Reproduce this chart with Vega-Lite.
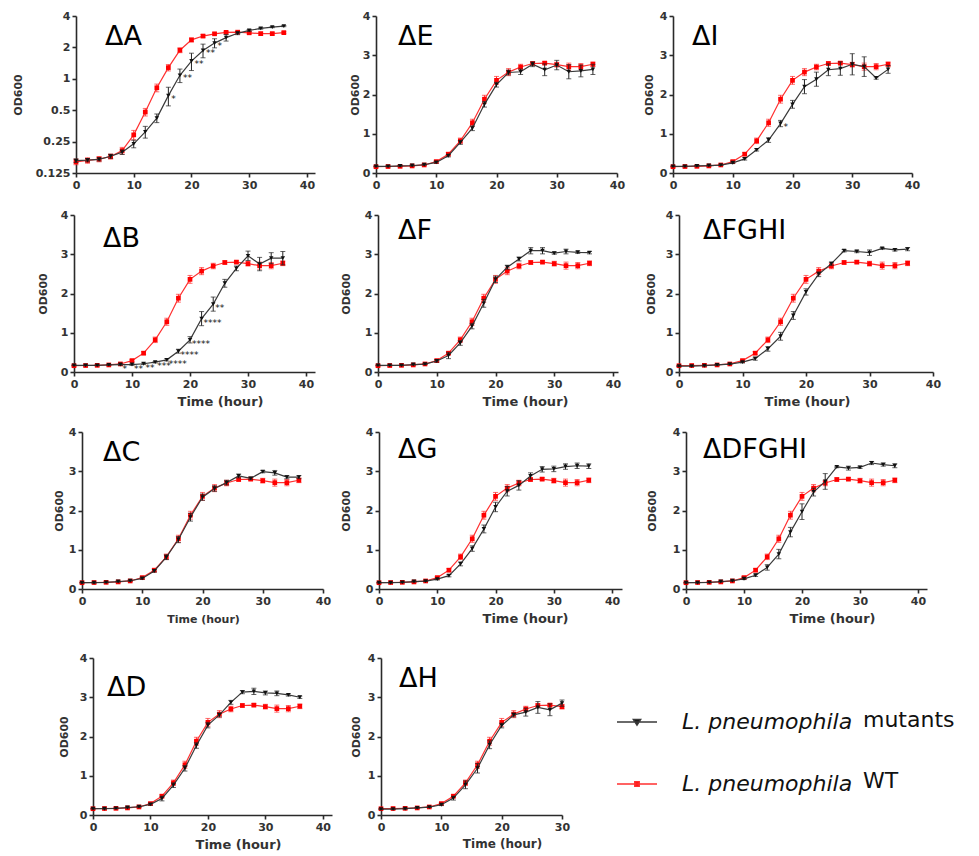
{
"$schema": "https://vega.github.io/schema/vega-lite/v6.json",
"padding": 0,
"background": "white",
"spacing": 0,
"datasets": {
"wt": [{"t":0,"y":0.16,"e":0.01},{"t":2,"y":0.165,"e":0.01},{"t":4,"y":0.17,"e":0.01},{"t":6,"y":0.18,"e":0.01},{"t":8,"y":0.205,"e":0.015},{"t":10,"y":0.29,"e":0.03},{"t":12,"y":0.48,"e":0.04},{"t":14,"y":0.82,"e":0.07},{"t":16,"y":1.28,"e":0.09},{"t":18,"y":1.88,"e":0.1},{"t":20,"y":2.36,"e":0.1},{"t":22,"y":2.57,"e":0.09},{"t":24,"y":2.7,"e":0.07},{"t":26,"y":2.79,"e":0.04},{"t":28,"y":2.8,"e":0.04},{"t":30,"y":2.76,"e":0.06},{"t":32,"y":2.71,"e":0.09},{"t":34,"y":2.71,"e":0.08},{"t":36,"y":2.77,"e":0.06}],
"mA": [{"t":0,"y":0.164,"e":0.006},{"t":2,"y":0.166,"e":0.006},{"t":4,"y":0.169,"e":0.006},{"t":6,"y":0.181,"e":0.008},{"t":8,"y":0.198,"e":0.01},{"t":10,"y":0.238,"e":0.02},{"t":12,"y":0.31,"e":0.04},{"t":14,"y":0.42,"e":0.04},{"t":16,"y":0.69,"e":0.14,"sig":"*"},{"t":18,"y":1.08,"e":0.16,"sig":"**"},{"t":20,"y":1.48,"e":0.28,"sig":"**"},{"t":22,"y":1.87,"e":0.28,"sig":"**"},{"t":24,"y":2.2,"e":0.22,"sig":"*"},{"t":26,"y":2.48,"e":0.18},{"t":28,"y":2.73,"e":0.08},{"t":30,"y":2.91,"e":0.06},{"t":32,"y":3.04,"e":0.05},{"t":34,"y":3.13,"e":0.04},{"t":36,"y":3.2,"e":0.04}],
"mB": [{"t":0,"y":0.17,"e":0.01},{"t":2,"y":0.17,"e":0.01},{"t":4,"y":0.17,"e":0.01},{"t":6,"y":0.18,"e":0.01},{"t":8,"y":0.19,"e":0.02,"sig":"*"},{"t":10,"y":0.19,"e":0.02,"sig":"**"},{"t":12,"y":0.21,"e":0.02,"sig":"**"},{"t":14,"y":0.25,"e":0.02,"sig":"***"},{"t":16,"y":0.31,"e":0.03,"sig":"****"},{"t":18,"y":0.53,"e":0.05,"sig":"****"},{"t":20,"y":0.82,"e":0.08,"sig":"****"},{"t":22,"y":1.36,"e":0.18,"sig":"****"},{"t":24,"y":1.73,"e":0.18,"sig":"**"},{"t":26,"y":2.26,"e":0.1},{"t":28,"y":2.64,"e":0.06},{"t":30,"y":2.96,"e":0.12},{"t":32,"y":2.75,"e":0.17},{"t":34,"y":2.9,"e":0.14},{"t":36,"y":2.9,"e":0.17}],
"mE": [{"t":0,"y":0.17,"e":0.01},{"t":2,"y":0.17,"e":0.01},{"t":4,"y":0.18,"e":0.01},{"t":6,"y":0.19,"e":0.01},{"t":8,"y":0.21,"e":0.01},{"t":10,"y":0.27,"e":0.02},{"t":12,"y":0.44,"e":0.03},{"t":14,"y":0.78,"e":0.05},{"t":16,"y":1.14,"e":0.06},{"t":18,"y":1.75,"e":0.07},{"t":20,"y":2.25,"e":0.06},{"t":22,"y":2.56,"e":0.06},{"t":24,"y":2.58,"e":0.07},{"t":26,"y":2.77,"e":0.06},{"t":28,"y":2.63,"e":0.15},{"t":30,"y":2.75,"e":0.12},{"t":32,"y":2.58,"e":0.18},{"t":34,"y":2.6,"e":0.15},{"t":36,"y":2.64,"e":0.13}],
"mI": [{"t":0,"y":0.17,"e":0.01},{"t":2,"y":0.17,"e":0.01},{"t":4,"y":0.18,"e":0.01},{"t":6,"y":0.19,"e":0.01},{"t":8,"y":0.2,"e":0.01},{"t":10,"y":0.26,"e":0.02},{"t":12,"y":0.36,"e":0.03},{"t":14,"y":0.59,"e":0.03},{"t":16,"y":0.84,"e":0.06},{"t":18,"y":1.26,"e":0.08,"sig":"*"},{"t":20,"y":1.75,"e":0.1},{"t":22,"y":2.2,"e":0.18},{"t":24,"y":2.39,"e":0.18},{"t":26,"y":2.63,"e":0.15},{"t":28,"y":2.66,"e":0.17},{"t":30,"y":2.77,"e":0.27},{"t":32,"y":2.71,"e":0.25},{"t":34,"y":2.42,"e":0.03},{"t":36,"y":2.64,"e":0.1}],
"mF": [{"t":0,"y":0.17,"e":0.01},{"t":2,"y":0.17,"e":0.01},{"t":4,"y":0.17,"e":0.01},{"t":6,"y":0.19,"e":0.01},{"t":8,"y":0.2,"e":0.01},{"t":10,"y":0.28,"e":0.03},{"t":12,"y":0.42,"e":0.08},{"t":14,"y":0.74,"e":0.06},{"t":16,"y":1.17,"e":0.07},{"t":18,"y":1.75,"e":0.1},{"t":20,"y":2.36,"e":0.08},{"t":22,"y":2.67,"e":0.05},{"t":24,"y":2.88,"e":0.05},{"t":26,"y":3.09,"e":0.08},{"t":28,"y":3.09,"e":0.08},{"t":30,"y":3.03,"e":0.03},{"t":32,"y":3.07,"e":0.06},{"t":34,"y":3.05,"e":0.03},{"t":36,"y":3.04,"e":0.03}],
"mFGHI": [{"t":0,"y":0.15,"e":0.01},{"t":2,"y":0.15,"e":0.01},{"t":4,"y":0.16,"e":0.01},{"t":6,"y":0.18,"e":0.01},{"t":8,"y":0.2,"e":0.01},{"t":10,"y":0.25,"e":0.02},{"t":12,"y":0.34,"e":0.04},{"t":14,"y":0.59,"e":0.06},{"t":16,"y":0.91,"e":0.1},{"t":18,"y":1.44,"e":0.1},{"t":20,"y":2.04,"e":0.08},{"t":22,"y":2.49,"e":0.06},{"t":24,"y":2.76,"e":0.04},{"t":26,"y":3.09,"e":0.03},{"t":28,"y":3.07,"e":0.03},{"t":30,"y":3.04,"e":0.07},{"t":32,"y":3.15,"e":0.02},{"t":34,"y":3.11,"e":0.03},{"t":36,"y":3.13,"e":0.04}],
"mC": [{"t":0,"y":0.16,"e":0.01},{"t":2,"y":0.16,"e":0.01},{"t":4,"y":0.17,"e":0.01},{"t":6,"y":0.19,"e":0.01},{"t":8,"y":0.21,"e":0.01},{"t":10,"y":0.27,"e":0.02},{"t":12,"y":0.46,"e":0.03},{"t":14,"y":0.81,"e":0.06},{"t":16,"y":1.26,"e":0.08},{"t":18,"y":1.83,"e":0.1},{"t":20,"y":2.34,"e":0.08},{"t":22,"y":2.56,"e":0.07},{"t":24,"y":2.71,"e":0.06},{"t":26,"y":2.88,"e":0.05},{"t":28,"y":2.82,"e":0.03},{"t":30,"y":2.99,"e":0.03},{"t":32,"y":2.96,"e":0.06},{"t":34,"y":2.85,"e":0.04},{"t":36,"y":2.85,"e":0.04}],
"mG": [{"t":0,"y":0.16,"e":0.01},{"t":2,"y":0.16,"e":0.01},{"t":4,"y":0.17,"e":0.01},{"t":6,"y":0.19,"e":0.01},{"t":8,"y":0.2,"e":0.01},{"t":10,"y":0.25,"e":0.02},{"t":12,"y":0.34,"e":0.03},{"t":14,"y":0.64,"e":0.05},{"t":16,"y":1.03,"e":0.07},{"t":18,"y":1.53,"e":0.1},{"t":20,"y":2.09,"e":0.12},{"t":22,"y":2.49,"e":0.12},{"t":24,"y":2.64,"e":0.12},{"t":26,"y":2.88,"e":0.08},{"t":28,"y":3.05,"e":0.07},{"t":30,"y":3.06,"e":0.07},{"t":32,"y":3.12,"e":0.07},{"t":34,"y":3.14,"e":0.07},{"t":36,"y":3.13,"e":0.06}],
"mDFGHI": [{"t":0,"y":0.16,"e":0.01},{"t":2,"y":0.16,"e":0.01},{"t":4,"y":0.17,"e":0.01},{"t":6,"y":0.19,"e":0.01},{"t":8,"y":0.21,"e":0.01},{"t":10,"y":0.26,"e":0.02},{"t":12,"y":0.35,"e":0.03},{"t":14,"y":0.55,"e":0.07},{"t":16,"y":0.89,"e":0.12},{"t":18,"y":1.45,"e":0.12},{"t":20,"y":1.97,"e":0.2},{"t":22,"y":2.47,"e":0.1},{"t":24,"y":2.74,"e":0.2},{"t":26,"y":3.11,"e":0.02},{"t":28,"y":3.08,"e":0.05},{"t":30,"y":3.1,"e":0.03},{"t":32,"y":3.21,"e":0.04},{"t":34,"y":3.17,"e":0.04},{"t":36,"y":3.14,"e":0.05}],
"mD": [{"t":0,"y":0.16,"e":0.01},{"t":2,"y":0.16,"e":0.01},{"t":4,"y":0.17,"e":0.01},{"t":6,"y":0.19,"e":0.01},{"t":8,"y":0.21,"e":0.01},{"t":10,"y":0.27,"e":0.02},{"t":12,"y":0.42,"e":0.06},{"t":14,"y":0.76,"e":0.06},{"t":16,"y":1.19,"e":0.07},{"t":18,"y":1.77,"e":0.07},{"t":20,"y":2.29,"e":0.07},{"t":22,"y":2.55,"e":0.05},{"t":24,"y":2.87,"e":0.05},{"t":26,"y":3.13,"e":0.04},{"t":28,"y":3.15,"e":0.08},{"t":30,"y":3.11,"e":0.05},{"t":32,"y":3.1,"e":0.06},{"t":34,"y":3.06,"e":0.03},{"t":36,"y":3.0,"e":0.03}],
"mH": [{"t":0,"y":0.15,"e":0.01},{"t":2,"y":0.15,"e":0.01},{"t":4,"y":0.16,"e":0.01},{"t":6,"y":0.18,"e":0.01},{"t":8,"y":0.2,"e":0.01},{"t":10,"y":0.26,"e":0.02},{"t":12,"y":0.43,"e":0.05},{"t":14,"y":0.77,"e":0.1},{"t":16,"y":1.19,"e":0.12},{"t":18,"y":1.79,"e":0.1},{"t":20,"y":2.28,"e":0.06},{"t":22,"y":2.55,"e":0.05},{"t":24,"y":2.62,"e":0.1},{"t":26,"y":2.74,"e":0.15},{"t":28,"y":2.68,"e":0.15},{"t":30,"y":2.85,"e":0.08}]
},
"vconcat": [
{"width":1,"height":9.5,"mark":"point","data":{"values":[]}},
{"hconcat":[
{"width":76,"height":1,"mark":"point","data":{"values":[]}},
{"width":239,"height":157,"title":{"text":"ΔA","dx":29,"offset":-41},
 "layer":[
  {"data":{"name":"wt"},"layer":[
   {"mark":{"type":"line","color":"#ff3030","strokeWidth":1.2},"encoding":{"x":{"field":"t","type":"quantitative"},"y":{"field":"y","type":"quantitative","title":"OD600"}}},
   {"mark":{"type":"errorbar","color":"#ff3030","thickness":1,"ticks":{"size":5}},"encoding":{"x":{"field":"t","type":"quantitative"},"y":{"field":"y","type":"quantitative","title":"OD600"},"yError":{"field":"e"}}},
   {"mark":{"type":"point","shape":"square","filled":true,"size":22,"color":"#ff0000","opacity":1},"encoding":{"x":{"field":"t","type":"quantitative"},"y":{"field":"y","type":"quantitative","title":"OD600"}}}]},
  {"data":{"name":"mA"},"layer":[
   {"mark":{"type":"line","color":"#3a3a3a","strokeWidth":1.2},"encoding":{
     "x":{"field":"t","type":"quantitative","scale":{"domain":[0,41.4],"nice":false},"axis":{"values":[0,10,20,30,40],"tickCount":10,"format":"d","title":null}},
     "y":{"field":"y","type":"quantitative","title":"OD600","scale":{"type":"log","base":2,"domain":[0.125,4],"nice":false},"axis":{"values":[0.125,0.25,0.5,1,2,4],"tickCount":10,"format":"~g","titlePadding":12}}}},
   {"mark":{"type":"errorbar","color":"#222","thickness":1,"ticks":{"size":5}},"encoding":{"x":{"field":"t","type":"quantitative"},"y":{"field":"y","type":"quantitative","title":"OD600"},"yError":{"field":"e"}}},
   {"mark":{"type":"point","shape":"triangle-down","filled":true,"size":20,"color":"#111","opacity":1},"encoding":{"x":{"field":"t","type":"quantitative"},"y":{"field":"y","type":"quantitative","title":"OD600"}}}]},
  {"data":{"name":"mA"},"transform":[{"filter":"isValid(datum.sig)"}],"mark":{"type":"text","align":"left","dx":3,"dy":3,"fontSize":9,"color":"#111"},"encoding":{"x":{"field":"t","type":"quantitative"},"y":{"field":"y","type":"quantitative","title":"OD600"},"text":{"field":"sig"}}}
 ]},
{"width":61,"height":1,"mark":"point","data":{"values":[]}},
{"width":241,"height":157,"title":{"text":"ΔE","dx":22,"offset":-41},
 "layer":[
  {"data":{"name":"wt"},"layer":[
   {"mark":{"type":"line","color":"#ff3030","strokeWidth":1.2},"encoding":{"x":{"field":"t","type":"quantitative"},"y":{"field":"y","type":"quantitative","title":"OD600"}}},
   {"mark":{"type":"errorbar","color":"#ff3030","thickness":1,"ticks":{"size":5}},"encoding":{"x":{"field":"t","type":"quantitative"},"y":{"field":"y","type":"quantitative","title":"OD600"},"yError":{"field":"e"}}},
   {"mark":{"type":"point","shape":"square","filled":true,"size":22,"color":"#ff0000","opacity":1},"encoding":{"x":{"field":"t","type":"quantitative"},"y":{"field":"y","type":"quantitative","title":"OD600"}}}]},
  {"data":{"name":"mE"},"layer":[
   {"mark":{"type":"line","color":"#3a3a3a","strokeWidth":1.2},"encoding":{
     "x":{"field":"t","type":"quantitative","scale":{"domain":[0,40],"nice":false},"axis":{"values":[0,10,20,30,40],"tickCount":10,"format":"d","title":null}},
     "y":{"field":"y","type":"quantitative","title":"OD600","scale":{"domain":[0,4],"nice":false},"axis":{"values":[0,1,2,3,4],"tickCount":10,"format":"d","titlePadding":2}}}},
   {"mark":{"type":"errorbar","color":"#222","thickness":1,"ticks":{"size":5}},"encoding":{"x":{"field":"t","type":"quantitative"},"y":{"field":"y","type":"quantitative","title":"OD600"},"yError":{"field":"e"}}},
   {"mark":{"type":"point","shape":"triangle-down","filled":true,"size":20,"color":"#111","opacity":1},"encoding":{"x":{"field":"t","type":"quantitative"},"y":{"field":"y","type":"quantitative","title":"OD600"}}}]}
 ]},
{"width":56,"height":1,"mark":"point","data":{"values":[]}},
{"width":239,"height":157,"title":{"text":"ΔI","dx":19,"offset":-41},
 "layer":[
  {"data":{"name":"wt"},"layer":[
   {"mark":{"type":"line","color":"#ff3030","strokeWidth":1.2},"encoding":{"x":{"field":"t","type":"quantitative"},"y":{"field":"y","type":"quantitative","title":"OD600"}}},
   {"mark":{"type":"errorbar","color":"#ff3030","thickness":1,"ticks":{"size":5}},"encoding":{"x":{"field":"t","type":"quantitative"},"y":{"field":"y","type":"quantitative","title":"OD600"},"yError":{"field":"e"}}},
   {"mark":{"type":"point","shape":"square","filled":true,"size":22,"color":"#ff0000","opacity":1},"encoding":{"x":{"field":"t","type":"quantitative"},"y":{"field":"y","type":"quantitative","title":"OD600"}}}]},
  {"data":{"name":"mI"},"layer":[
   {"mark":{"type":"line","color":"#3a3a3a","strokeWidth":1.2},"encoding":{
     "x":{"field":"t","type":"quantitative","scale":{"domain":[0,40],"nice":false},"axis":{"values":[0,10,20,30,40],"tickCount":10,"format":"d","title":null}},
     "y":{"field":"y","type":"quantitative","title":"OD600","scale":{"domain":[0,4],"nice":false},"axis":{"values":[0,1,2,3,4],"tickCount":10,"format":"d","titlePadding":5}}}},
   {"mark":{"type":"errorbar","color":"#222","thickness":1,"ticks":{"size":5}},"encoding":{"x":{"field":"t","type":"quantitative"},"y":{"field":"y","type":"quantitative","title":"OD600"},"yError":{"field":"e"}}},
   {"mark":{"type":"point","shape":"triangle-down","filled":true,"size":20,"color":"#111","opacity":1},"encoding":{"x":{"field":"t","type":"quantitative"},"y":{"field":"y","type":"quantitative","title":"OD600"}}}]},
  {"data":{"name":"mI"},"transform":[{"filter":"isValid(datum.sig)"}],"mark":{"type":"text","align":"left","dx":3,"dy":3,"fontSize":9,"color":"#111"},"encoding":{"x":{"field":"t","type":"quantitative"},"y":{"field":"y","type":"quantitative","title":"OD600"},"text":{"field":"sig"}}}
 ]}
],"spacing":0,"bounds":"flush"},
{"width":1,"height":19,"mark":"point","data":{"values":[]}},
{"hconcat":[
{"width":74,"height":1,"mark":"point","data":{"values":[]}},
{"width":241,"height":157,"title":{"text":"ΔB","dx":29,"offset":-44},
 "layer":[
  {"data":{"name":"wt"},"layer":[
   {"mark":{"type":"line","color":"#ff3030","strokeWidth":1.2},"encoding":{"x":{"field":"t","type":"quantitative"},"y":{"field":"y","type":"quantitative","title":"OD600"}}},
   {"mark":{"type":"errorbar","color":"#ff3030","thickness":1,"ticks":{"size":5}},"encoding":{"x":{"field":"t","type":"quantitative"},"y":{"field":"y","type":"quantitative","title":"OD600"},"yError":{"field":"e"}}},
   {"mark":{"type":"point","shape":"square","filled":true,"size":22,"color":"#ff0000","opacity":1},"encoding":{"x":{"field":"t","type":"quantitative"},"y":{"field":"y","type":"quantitative","title":"OD600"}}}]},
  {"data":{"name":"mB"},"layer":[
   {"mark":{"type":"line","color":"#3a3a3a","strokeWidth":1.2},"encoding":{
     "x":{"field":"t","type":"quantitative","scale":{"domain":[0,41.55],"nice":false},"axis":{"values":[0,10,20,30,40],"tickCount":10,"format":"d","title":"Time (hour)","titleFontSize":13,"titlePadding":6,"titleX":146}},
     "y":{"field":"y","type":"quantitative","title":"OD600","scale":{"domain":[0,4],"nice":false},"axis":{"values":[0,1,2,3,4],"tickCount":10,"format":"d","titlePadding":12}}}},
   {"mark":{"type":"errorbar","color":"#222","thickness":1,"ticks":{"size":5}},"encoding":{"x":{"field":"t","type":"quantitative"},"y":{"field":"y","type":"quantitative","title":"OD600"},"yError":{"field":"e"}}},
   {"mark":{"type":"point","shape":"triangle-down","filled":true,"size":20,"color":"#111","opacity":1},"encoding":{"x":{"field":"t","type":"quantitative"},"y":{"field":"y","type":"quantitative","title":"OD600"}}}]},
  {"data":{"name":"mB"},"transform":[{"filter":"isValid(datum.sig)"}],"mark":{"type":"text","align":"left","dx":2,"dy":4,"fontSize":9,"color":"#111"},"encoding":{"x":{"field":"t","type":"quantitative"},"y":{"field":"y","type":"quantitative","title":"OD600"},"text":{"field":"sig"}}}
 ]},
{"width":63,"height":1,"mark":"point","data":{"values":[]}},
{"width":240,"height":157,"title":{"text":"ΔF","dx":20,"offset":-36},
 "layer":[
  {"data":{"name":"wt"},"layer":[
   {"mark":{"type":"line","color":"#ff3030","strokeWidth":1.2},"encoding":{"x":{"field":"t","type":"quantitative"},"y":{"field":"y","type":"quantitative","title":"OD600"}}},
   {"mark":{"type":"errorbar","color":"#ff3030","thickness":1,"ticks":{"size":5}},"encoding":{"x":{"field":"t","type":"quantitative"},"y":{"field":"y","type":"quantitative","title":"OD600"},"yError":{"field":"e"}}},
   {"mark":{"type":"point","shape":"square","filled":true,"size":22,"color":"#ff0000","opacity":1},"encoding":{"x":{"field":"t","type":"quantitative"},"y":{"field":"y","type":"quantitative","title":"OD600"}}}]},
  {"data":{"name":"mF"},"layer":[
   {"mark":{"type":"line","color":"#3a3a3a","strokeWidth":1.2},"encoding":{
     "x":{"field":"t","type":"quantitative","scale":{"domain":[0,40.85],"nice":false},"axis":{"values":[0,10,20,30,40],"tickCount":10,"format":"d","title":"Time (hour)","titleFontSize":13,"titlePadding":6,"titleX":147}},
     "y":{"field":"y","type":"quantitative","title":"OD600","scale":{"domain":[0,4],"nice":false},"axis":{"values":[0,1,2,3,4],"tickCount":10,"format":"d","titlePadding":13}}}},
   {"mark":{"type":"errorbar","color":"#222","thickness":1,"ticks":{"size":5}},"encoding":{"x":{"field":"t","type":"quantitative"},"y":{"field":"y","type":"quantitative","title":"OD600"},"yError":{"field":"e"}}},
   {"mark":{"type":"point","shape":"triangle-down","filled":true,"size":20,"color":"#111","opacity":1},"encoding":{"x":{"field":"t","type":"quantitative"},"y":{"field":"y","type":"quantitative","title":"OD600"}}}]}
 ]},
{"width":61,"height":1,"mark":"point","data":{"values":[]}},
{"width":254,"height":157,"title":{"text":"ΔFGHI","dx":24,"offset":-36},
 "layer":[
  {"data":{"name":"wt"},"layer":[
   {"mark":{"type":"line","color":"#ff3030","strokeWidth":1.2},"encoding":{"x":{"field":"t","type":"quantitative"},"y":{"field":"y","type":"quantitative","title":"OD600"}}},
   {"mark":{"type":"errorbar","color":"#ff3030","thickness":1,"ticks":{"size":5}},"encoding":{"x":{"field":"t","type":"quantitative"},"y":{"field":"y","type":"quantitative","title":"OD600"},"yError":{"field":"e"}}},
   {"mark":{"type":"point","shape":"square","filled":true,"size":22,"color":"#ff0000","opacity":1},"encoding":{"x":{"field":"t","type":"quantitative"},"y":{"field":"y","type":"quantitative","title":"OD600"}}}]},
  {"data":{"name":"mFGHI"},"layer":[
   {"mark":{"type":"line","color":"#3a3a3a","strokeWidth":1.2},"encoding":{
     "x":{"field":"t","type":"quantitative","scale":{"domain":[0,40],"nice":false},"axis":{"values":[0,10,20,30,40],"tickCount":10,"format":"d","title":"Time (hour)","titleFontSize":13,"titlePadding":6,"titleX":128}},
     "y":{"field":"y","type":"quantitative","title":"OD600","scale":{"domain":[0,4],"nice":false},"axis":{"values":[0,1,2,3,4],"tickCount":10,"format":"d","titlePadding":9}}}},
   {"mark":{"type":"errorbar","color":"#222","thickness":1,"ticks":{"size":5}},"encoding":{"x":{"field":"t","type":"quantitative"},"y":{"field":"y","type":"quantitative","title":"OD600"},"yError":{"field":"e"}}},
   {"mark":{"type":"point","shape":"triangle-down","filled":true,"size":20,"color":"#111","opacity":1},"encoding":{"x":{"field":"t","type":"quantitative"},"y":{"field":"y","type":"quantitative","title":"OD600"}}}]}
 ]}
],"spacing":0,"bounds":"flush"},
{"width":1,"height":18,"mark":"point","data":{"values":[]}},
{"hconcat":[
{"width":82,"height":1,"mark":"point","data":{"values":[]}},
{"width":241,"height":157,"title":{"text":"ΔC","dx":21,"offset":-41},
 "layer":[
  {"data":{"name":"wt"},"layer":[
   {"mark":{"type":"line","color":"#ff3030","strokeWidth":1.2},"encoding":{"x":{"field":"t","type":"quantitative"},"y":{"field":"y","type":"quantitative","title":"OD600"}}},
   {"mark":{"type":"errorbar","color":"#ff3030","thickness":1,"ticks":{"size":5}},"encoding":{"x":{"field":"t","type":"quantitative"},"y":{"field":"y","type":"quantitative","title":"OD600"},"yError":{"field":"e"}}},
   {"mark":{"type":"point","shape":"square","filled":true,"size":22,"color":"#ff0000","opacity":1},"encoding":{"x":{"field":"t","type":"quantitative"},"y":{"field":"y","type":"quantitative","title":"OD600"}}}]},
  {"data":{"name":"mC"},"layer":[
   {"mark":{"type":"line","color":"#3a3a3a","strokeWidth":1.2},"encoding":{
     "x":{"field":"t","type":"quantitative","scale":{"domain":[0,40],"nice":false},"axis":{"values":[0,10,20,30,40],"tickCount":10,"format":"d","title":"Time (hour)","titleFontSize":11,"titlePadding":7,"titleX":121}},
     "y":{"field":"y","type":"quantitative","title":"OD600","scale":{"domain":[0,4],"nice":false},"axis":{"values":[0,1,2,3,4],"tickCount":10,"format":"d","titlePadding":4}}}},
   {"mark":{"type":"errorbar","color":"#222","thickness":1,"ticks":{"size":5}},"encoding":{"x":{"field":"t","type":"quantitative"},"y":{"field":"y","type":"quantitative","title":"OD600"},"yError":{"field":"e"}}},
   {"mark":{"type":"point","shape":"triangle-down","filled":true,"size":20,"color":"#111","opacity":1},"encoding":{"x":{"field":"t","type":"quantitative"},"y":{"field":"y","type":"quantitative","title":"OD600"}}}]}
 ]},
{"width":56,"height":1,"mark":"point","data":{"values":[]}},
{"width":243,"height":157,"title":{"text":"ΔG","dx":19,"offset":-38},
 "layer":[
  {"data":{"name":"wt"},"layer":[
   {"mark":{"type":"line","color":"#ff3030","strokeWidth":1.2},"encoding":{"x":{"field":"t","type":"quantitative"},"y":{"field":"y","type":"quantitative","title":"OD600"}}},
   {"mark":{"type":"errorbar","color":"#ff3030","thickness":1,"ticks":{"size":5}},"encoding":{"x":{"field":"t","type":"quantitative"},"y":{"field":"y","type":"quantitative","title":"OD600"},"yError":{"field":"e"}}},
   {"mark":{"type":"point","shape":"square","filled":true,"size":22,"color":"#ff0000","opacity":1},"encoding":{"x":{"field":"t","type":"quantitative"},"y":{"field":"y","type":"quantitative","title":"OD600"}}}]},
  {"data":{"name":"mG"},"layer":[
   {"mark":{"type":"line","color":"#3a3a3a","strokeWidth":1.2},"encoding":{
     "x":{"field":"t","type":"quantitative","scale":{"domain":[0,41.7],"nice":false},"axis":{"values":[0,10,20,30,40],"tickCount":10,"format":"d","title":"Time (hour)","titleFontSize":13,"titlePadding":6,"titleX":146}},
     "y":{"field":"y","type":"quantitative","title":"OD600","scale":{"domain":[0,4],"nice":false},"axis":{"values":[0,1,2,3,4],"tickCount":10,"format":"d","titlePadding":14}}}},
   {"mark":{"type":"errorbar","color":"#222","thickness":1,"ticks":{"size":5}},"encoding":{"x":{"field":"t","type":"quantitative"},"y":{"field":"y","type":"quantitative","title":"OD600"},"yError":{"field":"e"}}},
   {"mark":{"type":"point","shape":"triangle-down","filled":true,"size":20,"color":"#111","opacity":1},"encoding":{"x":{"field":"t","type":"quantitative"},"y":{"field":"y","type":"quantitative","title":"OD600"}}}]}
 ]},
{"width":64,"height":1,"mark":"point","data":{"values":[]}},
{"width":241,"height":157,"title":{"text":"ΔDFGHI","dx":17,"offset":-38},
 "layer":[
  {"data":{"name":"wt"},"layer":[
   {"mark":{"type":"line","color":"#ff3030","strokeWidth":1.2},"encoding":{"x":{"field":"t","type":"quantitative"},"y":{"field":"y","type":"quantitative","title":"OD600"}}},
   {"mark":{"type":"errorbar","color":"#ff3030","thickness":1,"ticks":{"size":5}},"encoding":{"x":{"field":"t","type":"quantitative"},"y":{"field":"y","type":"quantitative","title":"OD600"},"yError":{"field":"e"}}},
   {"mark":{"type":"point","shape":"square","filled":true,"size":22,"color":"#ff0000","opacity":1},"encoding":{"x":{"field":"t","type":"quantitative"},"y":{"field":"y","type":"quantitative","title":"OD600"}}}]},
  {"data":{"name":"mDFGHI"},"layer":[
   {"mark":{"type":"line","color":"#3a3a3a","strokeWidth":1.2},"encoding":{
     "x":{"field":"t","type":"quantitative","scale":{"domain":[0,41.55],"nice":false},"axis":{"values":[0,10,20,30,40],"tickCount":10,"format":"d","title":"Time (hour)","titleFontSize":13,"titlePadding":6,"titleX":146}},
     "y":{"field":"y","type":"quantitative","title":"OD600","scale":{"domain":[0,4],"nice":false},"axis":{"values":[0,1,2,3,4],"tickCount":10,"format":"d","titlePadding":15}}}},
   {"mark":{"type":"errorbar","color":"#222","thickness":1,"ticks":{"size":5}},"encoding":{"x":{"field":"t","type":"quantitative"},"y":{"field":"y","type":"quantitative","title":"OD600"},"yError":{"field":"e"}}},
   {"mark":{"type":"point","shape":"triangle-down","filled":true,"size":20,"color":"#111","opacity":1},"encoding":{"x":{"field":"t","type":"quantitative"},"y":{"field":"y","type":"quantitative","title":"OD600"}}}]}
 ]}
],"spacing":0,"bounds":"flush"},
{"width":1,"height":27,"mark":"point","data":{"values":[]}},
{"hconcat":[
{"width":93,"height":1,"mark":"point","data":{"values":[]}},
{"width":239,"height":157,"title":{"text":"ΔD","dx":14,"offset":-50},
 "layer":[
  {"data":{"name":"wt"},"layer":[
   {"mark":{"type":"line","color":"#ff3030","strokeWidth":1.2},"encoding":{"x":{"field":"t","type":"quantitative"},"y":{"field":"y","type":"quantitative","title":"OD600"},
     "opacity":{"datum":"w","scale":{"domain":["m","w"],"range":[1,1]},"legend":{"orient":"none","legendX":706,"legendY":42,"title":null,"padding":0,"labelExpr":"datum.value === 'm' ? 'mutants' : 'WT'","labelFont":"DejaVu Sans","labelFontSize":22,"labelColor":"#111","labelOffset":24,"labelLimit":0,"symbolSize":1600,"rowPadding":30,"symbolOpacity":0,"symbolStrokeWidth":0,"symbolStrokeColor":"transparent","symbolFillColor":"transparent",
       "encode":{"symbols":{"update":{"opacity":{"value":0},"strokeOpacity":{"value":0},"fillOpacity":{"value":0},"strokeWidth":{"value":0},"stroke":{"value":"transparent"},"fill":{"value":"transparent"},"size":{"value":1600},"shape":{"signal":"datum.value === 'm' ? 'M-1,0H1M-0.18,-0.12H0.18L0,0.16Z' : 'M-1,0H1M-0.11,-0.11H0.11V0.11H-0.11Z'"}}}}}}}},
   {"mark":{"type":"errorbar","color":"#ff3030","thickness":1,"ticks":{"size":5}},"encoding":{"x":{"field":"t","type":"quantitative"},"y":{"field":"y","type":"quantitative","title":"OD600"},"yError":{"field":"e"}}},
   {"mark":{"type":"point","shape":"square","filled":true,"size":22,"color":"#ff0000","opacity":1},"encoding":{"x":{"field":"t","type":"quantitative"},"y":{"field":"y","type":"quantitative","title":"OD600"}}}]},
  {"data":{"name":"mD"},"layer":[
   {"mark":{"type":"line","color":"#3a3a3a","strokeWidth":1.2},"encoding":{
     "x":{"field":"t","type":"quantitative","scale":{"domain":[0,41.6],"nice":false},"axis":{"values":[0,10,20,30,40],"tickCount":10,"format":"d","title":"Time (hour)","titleFontSize":13,"titlePadding":6,"titleX":145}},
     "y":{"field":"y","type":"quantitative","title":"OD600","scale":{"domain":[0,4],"nice":false},"axis":{"values":[0,1,2,3,4],"tickCount":10,"format":"d","titlePadding":10}},
     "opacity":{"datum":"m"}}},
   {"mark":{"type":"errorbar","color":"#222","thickness":1,"ticks":{"size":5}},"encoding":{"x":{"field":"t","type":"quantitative"},"y":{"field":"y","type":"quantitative","title":"OD600"},"yError":{"field":"e"}}},
   {"mark":{"type":"point","shape":"triangle-down","filled":true,"size":20,"color":"#111","opacity":1},"encoding":{"x":{"field":"t","type":"quantitative"},"y":{"field":"y","type":"quantitative","title":"OD600"}}}]}
 ]},
{"width":49,"height":1,"mark":"point","data":{"values":[]}},
{"width":181,"height":157,"title":{"text":"ΔH","dx":18,"offset":-41},
 "layer":[
  {"data":{"name":"wt"},"transform":[{"filter":"datum.t <= 30"}],"layer":[
   {"mark":{"type":"line","strokeWidth":1.2},"encoding":{"x":{"field":"t","type":"quantitative"},"y":{"field":"y","type":"quantitative","title":"OD600"},
     "color":{"datum":"w","scale":{"domain":["m","w"],"range":["#3a3a3a","#ff3030"]},"legend":{"orient":"none","legendX":616,"legendY":701,"title":null,"padding":0,"labelExpr":"'L. pneumophila'","labelFont":"DejaVu Sans","labelFontStyle":"italic","labelFontSize":22,"labelColor":"#111","labelOffset":24,"labelLimit":0,"symbolSize":1600,"rowPadding":30,
       "encode":{"symbols":{"update":{"opacity":{"value":1},"size":{"value":1600},"strokeWidth":{"value":1.5},"fill":{"signal":"datum.value === 'm' ? '#111' : '#ff0000'"},"stroke":{"signal":"datum.value === 'm' ? '#111' : '#ff0000'"},"shape":{"signal":"datum.value === 'm' ? 'M-1,0H1M-0.18,-0.12H0.18L0,0.16Z' : 'M-1,0H1M-0.11,-0.11H0.11V0.11H-0.11Z'"}}}}}}}},
   {"mark":{"type":"errorbar","color":"#ff3030","thickness":1,"ticks":{"size":5}},"encoding":{"x":{"field":"t","type":"quantitative"},"y":{"field":"y","type":"quantitative","title":"OD600"},"yError":{"field":"e"}}},
   {"mark":{"type":"point","shape":"square","filled":true,"size":22,"color":"#ff0000","opacity":1},"encoding":{"x":{"field":"t","type":"quantitative"},"y":{"field":"y","type":"quantitative","title":"OD600"}}}]},
  {"data":{"name":"mH"},"layer":[
   {"mark":{"type":"line","strokeWidth":1.2},"encoding":{
     "x":{"field":"t","type":"quantitative","scale":{"domain":[0,30],"nice":false},"axis":{"values":[0,10,20,30],"tickCount":10,"format":"d","title":"Time (hour)","titleFontSize":12,"titlePadding":6,"titleX":121}},
     "y":{"field":"y","type":"quantitative","title":"OD600","scale":{"domain":[0,4],"nice":false},"axis":{"values":[0,1,2,3,4],"tickCount":10,"format":"d","titlePadding":6}},
     "color":{"datum":"m"}}},
   {"mark":{"type":"errorbar","color":"#222","thickness":1,"ticks":{"size":5}},"encoding":{"x":{"field":"t","type":"quantitative"},"y":{"field":"y","type":"quantitative","title":"OD600"},"yError":{"field":"e"}}},
   {"mark":{"type":"point","shape":"triangle-down","filled":true,"size":20,"color":"#111","opacity":1},"encoding":{"x":{"field":"t","type":"quantitative"},"y":{"field":"y","type":"quantitative","title":"OD600"}}}]}
 ]}
],"spacing":0,"bounds":"flush","resolve":{"scale":{"opacity":"independent"},"legend":{"opacity":"independent"}}}
],
"resolve": {"scale": {"opacity": "independent"}, "legend": {"opacity": "independent"}},
"config": {
 "view": {"stroke": null},
 "font": "DejaVu Sans",
 "text": {"font": "DejaVu Sans"},
 "axis": {"grid": false, "domainColor": "#2a2a2a", "domainWidth": 1.6, "tickColor": "#2a2a2a", "tickWidth": 1.6, "tickSize": 4, "labelFont": "DejaVu Sans", "labelFontWeight": "bold", "labelFontSize": 11, "labelColor": "#333", "labelPadding": 2, "labelFlush": false, "labelOverlap": false, "labelBound": false, "titleFont": "DejaVu Sans", "titleFontWeight": "bold", "titleFontSize": 11, "titleColor": "#333"},
 "title": {"anchor": "start", "frame": "group", "font": "DejaVu Sans", "fontSize": 27, "fontWeight": "normal", "color": "#000", "baseline": "alphabetic"}
}
}
